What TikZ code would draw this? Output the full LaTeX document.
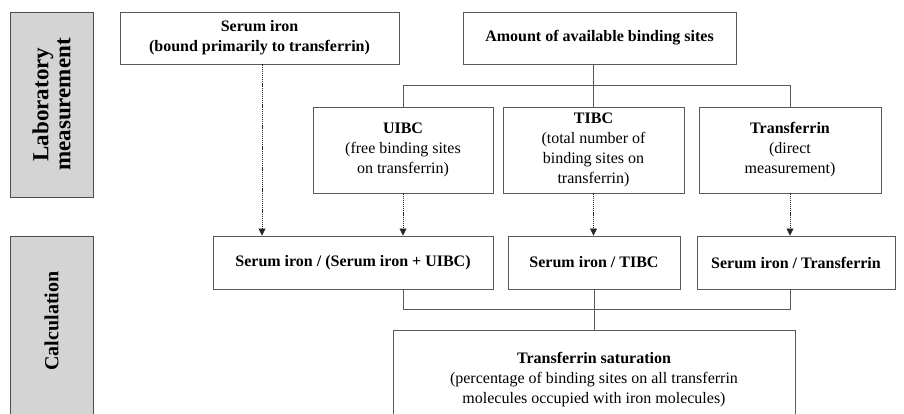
\documentclass[tikz,border=0pt]{standalone}
\usepackage{fontspec}
\setmainfont{Liberation Serif}
\usetikzlibrary{arrows.meta}

\begin{document}
\begin{tikzpicture}[x=1pt,y=-1pt,
  every node/.style={font=\fontsize{16}{20}\selectfont, align=center},
  box/.style={draw=black!65, line width=0.9pt, fill=white, inner sep=1pt},
  sidebox/.style={draw=black!70, line width=0.9pt, fill=black!17},
  sidetext/.style={rotate=90, font=\bfseries\fontsize{23}{22}\selectfont},
  link/.style={black!65, line width=0.9pt},
  feed/.style={black!85, line width=0.6pt, dash pattern=on 1.2pt off 0.9pt,
    -{Triangle[width=7pt,length=7pt]}}
]
\useasboundingbox (0,0) rectangle (904,413);
\clip (0,0) rectangle (904,413);

% side labels
\node[sidebox, sidetext, minimum width=185pt, minimum height=83pt] (lab) at (51.5,104.5) {Laboratory\\measurement};
\draw[sidebox] (10,236) rectangle (93,430);
\node[sidetext, font=\bfseries\fontsize{20}{20}\selectfont] (calc) at (51.5,321) {Calculation};

% laboratory measurement
\node[box, minimum width=279pt, minimum height=52pt] (serum) at (259.5,38) {\textbf{Serum iron}\\\textbf{(bound primarily to transferrin)}};
\node[box, minimum width=273pt, minimum height=52pt] (amount) at (599.5,38) {\textbf{Amount of available binding sites}};

\node[box, minimum width=180pt, minimum height=86pt] (uibc) at (403,150) {\textbf{UIBC}\\(free binding sites\\on transferrin)};
\node[box, minimum width=181pt, minimum height=86pt] (tibc) at (593.5,150) {\textbf{TIBC}\\(total number of\\binding sites on\\transferrin)};
\node[box, minimum width=182pt, minimum height=86pt] (transf) at (790,150) {\textbf{Transferrin}\\(direct\\measurement)};

\coordinate (bus) at (0,85);
\draw[link] (amount.south -| tibc.north) -- (tibc.north);
\draw[link] (uibc.north) -- (uibc.north |- bus) -- (transf.north |- bus) -- (transf.north);

% calculation
\node[box, minimum width=280pt, minimum height=53pt] (q1) at (353,262.5) {\textbf{Serum iron / (Serum iron + UIBC)}};
\node[box, minimum width=172pt, minimum height=53pt] (q2) at (594,262.5) {\textbf{Serum iron / TIBC}};
\node[box, minimum width=198pt, minimum height=53pt] (q3) at (796,262.5) {\textbf{Serum iron / Transferrin}};

\draw[feed] (serum.south -| 262,0) -- (q1.north -| 262,0);
\draw[feed] (uibc.south) -- (uibc.south |- q1.north);
\draw[feed] (tibc.south) -- (tibc.south |- q2.north);
\draw[feed] (transf.south) -- (transf.south |- q3.north);

\node[box, minimum width=402pt, minimum height=100pt] (sat) at (594,380) {\textbf{Transferrin saturation}\\(percentage of binding sites on all transferrin\\molecules occupied with iron molecules)};

\coordinate (low) at (0,309);
\draw[link] (q1.south -| uibc.south) -- (uibc.south |- low) -- (transf.south |- low) -- (q3.south -| transf.south);
\draw[link] (q2.south) -- (sat.north);

\end{tikzpicture}
\end{document}
